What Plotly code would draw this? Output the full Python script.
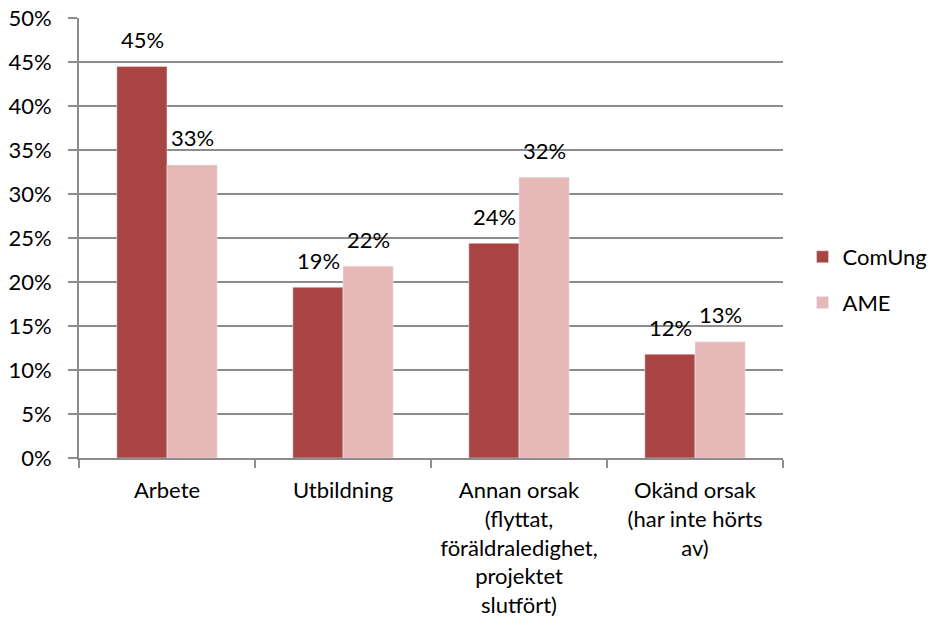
import plotly.graph_objects as go

# Data
categories = [
    "Arbete",
    "Utbildning",
    "Annan orsak<br>(flyttat,<br>föräldraledighet,<br>projektet<br>slutfört)",
    "Okänd orsak<br>(har inte hörts<br>av)",
]
comung_values = [0.445, 0.194, 0.244, 0.118]
ame_values = [0.333, 0.218, 0.319, 0.132]
comung_labels = ["45%", "19%", "24%", "12%"]
ame_labels = ["33%", "22%", "32%", "13%"]
y_ticks = [0, 0.05, 0.10, 0.15, 0.20, 0.25, 0.30, 0.35, 0.40, 0.45, 0.50]

font_family = "Lato, 'Open Sans', sans-serif"
grid_color = "#8c8c8c"
fs = 22

fig = go.Figure()
fig.add_trace(go.Bar(
    name="ComUng", x=categories, y=comung_values,
    marker_color="#A84543", legendgroup="a",
))
fig.add_trace(go.Bar(
    name="AME", x=categories, y=ame_values,
    marker_color="#E6B8B7", legendgroup="b",
))

# value labels above each bar (Excel style, a bit of space above the bar)
for cat, v, lab in zip(categories, comung_values, comung_labels):
    fig.add_annotation(x=cat, y=v, text=lab, showarrow=False,
                       xshift=-25, yshift=27, yanchor="middle",
                       font=dict(size=fs, color="black"))
for cat, v, lab in zip(categories, ame_values, ame_labels):
    fig.add_annotation(x=cat, y=v, text=lab, showarrow=False,
                       xshift=25, yshift=27, yanchor="middle",
                       font=dict(size=fs, color="black"))

fig.update_layout(
    width=931, height=625,
    margin=dict(l=79, r=148, t=18, b=167),
    plot_bgcolor="white", paper_bgcolor="white",
    font=dict(family=font_family, size=fs, color="black"),
    barmode="group", bargap=0.43, bargroupgap=0,
    legend=dict(
        xref="container", yref="container",
        x=0.862, y=0.552, xanchor="left", yanchor="middle",
        traceorder="grouped", tracegroupgap=14,
        font=dict(size=fs),
    ),
)

fig.update_yaxes(
    range=[0, 0.5], tickvals=y_ticks, tickformat=".0%",
    showgrid=True, gridcolor=grid_color, gridwidth=2,
    showline=True, linecolor=grid_color, linewidth=2,
    ticks="outside", ticklen=9, tickcolor=grid_color, tickwidth=2,
    zeroline=False, tickfont=dict(size=fs), automargin=False,
    ticklabelstandoff=12,
)
fig.update_xaxes(
    showline=True, linecolor=grid_color, linewidth=2,
    ticks="outside", tickson="boundaries", ticklen=8,
    tickcolor=grid_color, tickwidth=2, showgrid=False,
    tickfont=dict(size=fs), tickangle=0, automargin=False,
    ticklabelstandoff=12,
)

# drop the default 8px body margin so the figure sits at the window corner
fig.write_html("out.html", config={"displayModeBar": False},
               post_script="document.body.style.margin='0';")
